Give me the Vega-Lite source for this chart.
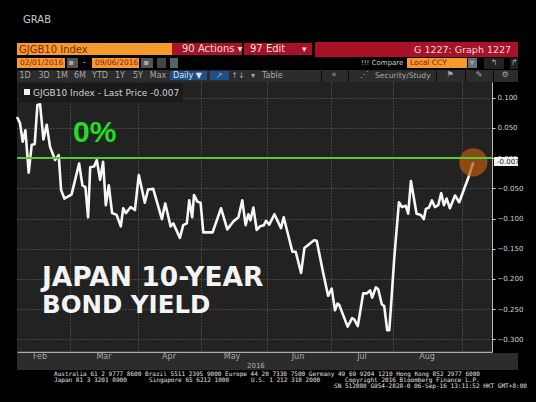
{"$schema":"https://vega.github.io/schema/vega-lite/v6.json","width":475,"height":270,"autosize":{"type":"none"},"padding":{"left":17,"top":82,"right":44,"bottom":50},"background":"#000000","view":{"fill":"#222222","stroke":null},
"datasets":{
"yield":[{"session":0,"v":0.068},{"session":1,"v":0.058},{"session":1.9,"v":0.027},{"session":2.8,"v":0.046},{"session":3.9,"v":-0.024},{"session":4.9,"v":0.022},{"session":5.9,"v":0.023},{"session":6.8,"v":0.088},{"session":7.7,"v":0.089},{"session":8.8,"v":0.031},{"session":9.9,"v":0.055},{"session":11,"v":0.019},{"session":12.7,"v":-0.003},{"session":13.9,"v":0.005},{"session":14.7,"v":-0.053},{"session":15.8,"v":-0.067},{"session":18.2,"v":-0.06},{"session":20.7,"v":-0.009},{"session":21.8,"v":-0.045},{"session":22.8,"v":-0.048},{"session":23.7,"v":-0.098},{"session":24.4,"v":-0.015},{"session":25.7,"v":-0.014},{"session":26.6,"v":-0.003},{"session":27.7,"v":-0.036},{"session":28.7,"v":-0.006},{"session":29.6,"v":-0.078},{"session":30.6,"v":-0.045},{"session":31.7,"v":-0.091},{"session":33.2,"v":-0.094},{"session":34.6,"v":-0.113},{"session":35.4,"v":-0.083},{"session":36.3,"v":-0.091},{"session":37.9,"v":-0.081},{"session":39.3,"v":-0.086},{"session":40.6,"v":-0.028},{"session":42.6,"v":-0.074},{"session":43.7,"v":-0.052},{"session":45.4,"v":-0.051},{"session":48.3,"v":-0.101},{"session":49.4,"v":-0.075},{"session":51.2,"v":-0.113},{"session":52.1,"v":-0.108},{"session":54.3,"v":-0.132},{"session":55.4,"v":-0.111},{"session":56.6,"v":-0.108},{"session":57.4,"v":-0.07},{"session":58.4,"v":-0.098},{"session":59,"v":-0.061},{"session":60.1,"v":-0.072},{"session":61.2,"v":-0.074},{"session":62.1,"v":-0.123},{"session":65.2,"v":-0.123},{"session":68,"v":-0.083},{"session":70.1,"v":-0.118},{"session":72.1,"v":-0.105},{"session":73.8,"v":-0.098},{"session":75.1,"v":-0.07},{"session":76.2,"v":-0.111},{"session":77.1,"v":-0.093},{"session":77.8,"v":-0.103},{"session":78.8,"v":-0.082},{"session":79.9,"v":-0.119},{"session":81,"v":-0.113},{"session":82.3,"v":-0.111},{"session":83,"v":-0.104},{"session":84.1,"v":-0.11},{"session":85.8,"v":-0.093},{"session":88,"v":-0.116},{"session":88.9,"v":-0.098},{"session":91.8,"v":-0.155},{"session":92.9,"v":-0.155},{"session":94.7,"v":-0.19},{"session":95.8,"v":-0.149},{"session":99,"v":-0.136},{"session":99.9,"v":-0.137},{"session":102.1,"v":-0.191},{"session":103.7,"v":-0.228},{"session":104.9,"v":-0.216},{"session":106,"v":-0.252},{"session":106.8,"v":-0.241},{"session":107.4,"v":-0.243},{"session":110.2,"v":-0.279},{"session":111.7,"v":-0.265},{"session":112.4,"v":-0.267},{"session":113.6,"v":-0.278},{"session":115.4,"v":-0.224},{"session":116.6,"v":-0.224},{"session":117.7,"v":-0.219},{"session":118.4,"v":-0.231},{"session":119.6,"v":-0.214},{"session":120.4,"v":-0.217},{"session":121.6,"v":-0.242},{"session":122.4,"v":-0.245},{"session":123.4,"v":-0.285},{"session":124.1,"v":-0.285},{"session":124.8,"v":-0.235},{"session":125.7,"v":-0.169},{"session":127.3,"v":-0.073},{"session":128.3,"v":-0.081},{"session":129.6,"v":-0.079},{"session":130.4,"v":-0.092},{"session":131.3,"v":-0.038},{"session":133.2,"v":-0.092},{"session":134.6,"v":-0.094},{"session":135.6,"v":-0.101},{"session":136.3,"v":-0.084},{"session":137.3,"v":-0.082},{"session":138.3,"v":-0.07},{"session":139.3,"v":-0.081},{"session":140.4,"v":-0.078},{"session":141.4,"v":-0.058},{"session":142.3,"v":-0.078},{"session":143.2,"v":-0.067},{"session":144.3,"v":-0.083},{"session":146,"v":-0.062},{"session":147.4,"v":-0.073},{"session":150.4,"v":-0.033},{"session":152.1,"v":-0.007}],
"boxes":[
{"l":17,"r":172,"t":43,"b":55,"c":"#f59a2c"},{"l":172,"r":242,"t":43,"b":55,"c":"#a81228"},{"l":244,"r":312,"t":43,"b":55,"c":"#a81228"},{"l":315,"r":518,"t":42,"b":57,"c":"#a81228"},
{"l":17,"r":65,"t":58,"b":68,"c":"#f59a2c"},{"l":67,"r":78,"t":58,"b":68,"c":"#555555"},{"l":92,"r":139,"t":58,"b":68,"c":"#f59a2c"},{"l":141,"r":153,"t":58,"b":68,"c":"#555555"},{"l":157,"r":166,"t":58,"b":68,"c":"#444444"},{"l":170,"r":178,"t":58,"b":68,"c":"#556070"},
{"l":407,"r":467,"t":58,"b":68,"c":"#f59a2c"},{"l":468,"r":477,"t":58,"b":68,"c":"#667080"},{"l":484,"r":504,"t":58,"b":69,"c":"#222222"},{"l":510,"r":518,"t":58,"b":69,"c":"#222222"},
{"l":17,"r":518,"t":70,"b":82,"c":"#2c2c2c"},{"l":170,"r":207,"t":71,"b":80,"c":"#1f4f88"},{"l":210,"r":229,"t":71,"b":80,"c":"#1f4f88"},
{"l":321,"r":322,"t":70,"b":82,"c":"#0a0a0a"},{"l":348,"r":349,"t":70,"b":82,"c":"#0a0a0a"},{"l":436,"r":437,"t":70,"b":82,"c":"#0a0a0a"},{"l":465,"r":466,"t":70,"b":82,"c":"#0a0a0a"},{"l":493,"r":494,"t":70,"b":82,"c":"#0a0a0a"},
{"l":17,"r":518,"t":353,"b":370,"c":"#2c2c2c"},{"l":18,"r":183,"t":83,"b":102,"c":"#1a1a1a"},{"l":24,"r":30,"t":89,"b":95,"c":"#f2f2f2"}],
"labels":[
{"x":23,"y":20,"s":"GRAB","c":"#c8c8c8","z":10},{"x":19,"y":50,"s":"GJGB10 Index","c":"#7a2a10","z":10},{"x":182,"y":49,"s":"90 Actions ▾","c":"#e8dcdc","z":10},{"x":250,"y":49,"s":"97 Edit","c":"#e8dcdc","z":10},{"x":302,"y":49,"s":"▾","c":"#e8dcdc","z":9},{"x":414,"y":50,"s":"G 1227: Graph 1227","c":"#e8dcdc","z":9.5},
{"x":20,"y":63,"s":"02/01/2016","c":"#8a1414","z":7.5},{"x":95,"y":63,"s":"09/06/2016","c":"#8a1414","z":7.5},{"x":83,"y":63,"s":"-","c":"#cccccc","z":8},{"x":410,"y":63,"s":"Local CCY","c":"#8a1414","z":7.5},{"x":361,"y":63,"s":"!!! Compare","c":"#c8c8c8","z":7},
{"x":173,"y":75.5,"s":"Daily ▼","c":"#d8e4f0","z":8},{"x":262,"y":75.5,"s":"Table","c":"#a8a8a8","z":8},{"x":375,"y":75.5,"s":"Security/Study","c":"#a8a8a8","z":7.6},{"x":33,"y":92.5,"s":"GJGB10 Index - Last Price -0.007","c":"#d0d0d0","z":9},{"x":247,"y":366,"s":"2016","c":"#b0b0b0","z":7}],
"centers":[
{"x":25,"y":75.5,"s":"1D"},{"x":44,"y":75.5,"s":"3D"},{"x":62,"y":75.5,"s":"1M"},{"x":80,"y":75.5,"s":"6M"},{"x":100,"y":75.5,"s":"YTD"},{"x":120,"y":75.5,"s":"1Y"},{"x":138,"y":75.5,"s":"5Y"},{"x":158,"y":75.5,"s":"Max"},{"x":219,"y":75.5,"s":"↗"},{"x":238,"y":75.5,"s":"↑↓"},{"x":253,"y":75.5,"s":"▾"},{"x":334,"y":75,"s":"«"},{"x":364,"y":75,"s":"⋰"},{"x":450,"y":75,"s":"⚑"},{"x":479,"y":75,"s":"✎"},{"x":505,"y":75,"s":"⚙"},{"x":494,"y":63,"s":"↰"},{"x":514,"y":63,"s":"↱"},{"x":472,"y":63,"s":"▾"},{"x":71,"y":63,"s":"▪"},{"x":146,"y":63,"s":"▪"},
{"x":40,"y":357,"s":"Feb"},{"x":104,"y":357,"s":"Mar"},{"x":169,"y":357,"s":"Apr"},{"x":232,"y":357,"s":"May"},{"x":298,"y":357,"s":"Jun"},{"x":362,"y":357,"s":"Jul"},{"x":427,"y":357,"s":"Aug"}],
"footer":[
{"x":54,"y":374,"s":"Australia 61 2 9777 8600 Brazil 5511 2395 9000 Europe 44 20 7330 7500 Germany 49 69 9204 1210 Hong Kong 852 2977 6000"},
{"x":54,"y":380,"s":"Japan 81 3 3201 8900"},{"x":149,"y":380,"s":"Singapore 65 6212 1000"},{"x":251,"y":380,"s":"U.S. 1 212 318 2000"},{"x":345,"y":380,"s":"Copyright 2016 Bloomberg Finance L.P."},
{"x":334,"y":386,"s":"SN 512080 G954-2828-0 06-Sep-16 13:11:52 HKT  GMT+8:00"}],
"notes":[{"x":73,"y":133,"s":"0%","c":"#22dd22","z":30}],
"headline":[{"x":42,"y":278,"s":"JAPAN 10-YEAR","c":"#f4f4f4","z":26.5},{"x":42,"y":306,"s":"BOND YIELD","c":"#f4f4f4","z":24.5}]
},
"layer":[
{"data":{"name":"boxes"},"mark":{"type":"rect"},"encoding":{
"x":{"field":"l","type":"quantitative","scale":{"domain":[17,492],"zero":false,"nice":false},"axis":null},"x2":{"field":"r"},
"y":{"field":"t","type":"quantitative","scale":{"domain":[82,352],"reverse":true,"zero":false,"nice":false},"axis":null},"y2":{"field":"b"},
"fill":{"field":"c","type":"nominal","scale":null,"legend":null}}},
{"data":{"name":"labels"},"mark":{"type":"text","align":"left","baseline":"middle","font":"DejaVu Sans"},"encoding":{
"x":{"field":"x","type":"quantitative","scale":{"domain":[17,492],"zero":false,"nice":false},"axis":null},
"y":{"field":"y","type":"quantitative","scale":{"domain":[82,352],"reverse":true,"zero":false,"nice":false},"axis":null},
"text":{"field":"s"},"fill":{"field":"c","type":"nominal","scale":null,"legend":null},"size":{"field":"z","type":"quantitative","scale":null,"legend":null}}},
{"data":{"name":"centers"},"mark":{"type":"text","align":"center","baseline":"middle","font":"DejaVu Sans","fontSize":8,"fill":"#a8a8a8"},"encoding":{
"x":{"field":"x","type":"quantitative","scale":{"domain":[17,492],"zero":false,"nice":false},"axis":null},
"y":{"field":"y","type":"quantitative","scale":{"domain":[82,352],"reverse":true,"zero":false,"nice":false},"axis":null},
"text":{"field":"s"}}},
{"data":{"name":"footer"},"mark":{"type":"text","align":"left","baseline":"middle","font":"DejaVu Sans Mono","fontSize":6.05,"fill":"#e0e0e0"},"encoding":{
"x":{"field":"x","type":"quantitative","scale":{"domain":[17,492],"zero":false,"nice":false},"axis":null},
"y":{"field":"y","type":"quantitative","scale":{"domain":[82,352],"reverse":true,"zero":false,"nice":false},"axis":null},
"text":{"field":"s"}}},
{"data":{"name":"yield"},"mark":{"type":"line","color":"#f6f6f6","strokeWidth":2.6,"strokeJoin":"round"},"encoding":{
"x":{"field":"session","type":"quantitative","title":null,"scale":{"domain":[0,158.33],"nice":false,"zero":false},
"axis":{"values":[17.67,40.33,61.33,83.33,104.67,125.33,148.33],"labels":false,"ticks":false,"domainColor":"#aaaaaa","domainWidth":1.5,"grid":true,"gridColor":"#6a6a6a","gridDash":[1,2],"gridWidth":1}},
"y":{"field":"v","type":"quantitative","title":null,"scale":{"domain":[-0.321,0.126],"nice":false,"zero":false},
"axis":{"orient":"right","values":[0.1,0.05,0,-0.05,-0.1,-0.15,-0.2,-0.25,-0.3],"format":".3f","labelColor":"#d0d0d0","labelFont":"DejaVu Sans","labelFontSize":7,"labelPadding":2,"tickColor":"#e0e0e0","tickSize":3,"domainColor":"#bbbbbb","grid":true,"gridColor":"#6a6a6a","gridDash":[1,2],"gridWidth":1}}}},
{"data":{"values":[{"session":152.1,"v":-0.007}]},"mark":{"type":"point","filled":true,"size":800,"color":"#b85a10","opacity":0.7},"encoding":{
"x":{"field":"session","type":"quantitative","scale":{"domain":[0,158.33],"nice":false,"zero":false},"axis":null},
"y":{"field":"v","type":"quantitative","scale":{"domain":[-0.321,0.126],"nice":false,"zero":false},"axis":null}}},
{"data":{"values":[{"v":0}]},"mark":{"type":"rule","color":"#55cc33","strokeWidth":2},"encoding":{
"y":{"field":"v","type":"quantitative","scale":{"domain":[-0.321,0.126],"nice":false,"zero":false},"axis":null}}},
{"data":{"name":"notes"},"mark":{"type":"text","align":"left","baseline":"middle","font":"Liberation Sans","fontWeight":"bold"},"encoding":{
"x":{"field":"x","type":"quantitative","scale":{"domain":[17,492],"zero":false,"nice":false},"axis":null},
"y":{"field":"y","type":"quantitative","scale":{"domain":[82,352],"reverse":true,"zero":false,"nice":false},"axis":null},
"text":{"field":"s"},"fill":{"field":"c","type":"nominal","scale":null,"legend":null},"size":{"field":"z","type":"quantitative","scale":null,"legend":null}}},
{"data":{"name":"headline"},"mark":{"type":"text","align":"left","baseline":"middle","font":"DejaVu Sans","fontWeight":"bold"},"encoding":{
"x":{"field":"x","type":"quantitative","scale":{"domain":[17,492],"zero":false,"nice":false},"axis":null},
"y":{"field":"y","type":"quantitative","scale":{"domain":[82,352],"reverse":true,"zero":false,"nice":false},"axis":null},
"text":{"field":"s"},"fill":{"field":"c","type":"nominal","scale":null,"legend":null},"size":{"field":"z","type":"quantitative","scale":null,"legend":null}}},
{"data":{"values":[{"l":494,"r":518,"t":157,"b":166,"c":"#f4f4f4"}]},"mark":{"type":"rect"},"encoding":{
"x":{"field":"l","type":"quantitative","scale":{"domain":[17,492],"zero":false,"nice":false},"axis":null},"x2":{"field":"r"},
"y":{"field":"t","type":"quantitative","scale":{"domain":[82,352],"reverse":true,"zero":false,"nice":false},"axis":null},"y2":{"field":"b"},
"fill":{"field":"c","type":"nominal","scale":null,"legend":null}}},
{"data":{"values":[{"x":497,"y":161.5,"s":"-0.007"}]},"mark":{"type":"text","align":"left","baseline":"middle","font":"DejaVu Sans","fontSize":7,"fill":"#222222"},"encoding":{
"x":{"field":"x","type":"quantitative","scale":{"domain":[17,492],"zero":false,"nice":false},"axis":null},
"y":{"field":"y","type":"quantitative","scale":{"domain":[82,352],"reverse":true,"zero":false,"nice":false},"axis":null},
"text":{"field":"s"}}}
],
"resolve":{"scale":{"x":"independent","y":"independent"},"axis":{"x":"independent","y":"independent"}}
}
